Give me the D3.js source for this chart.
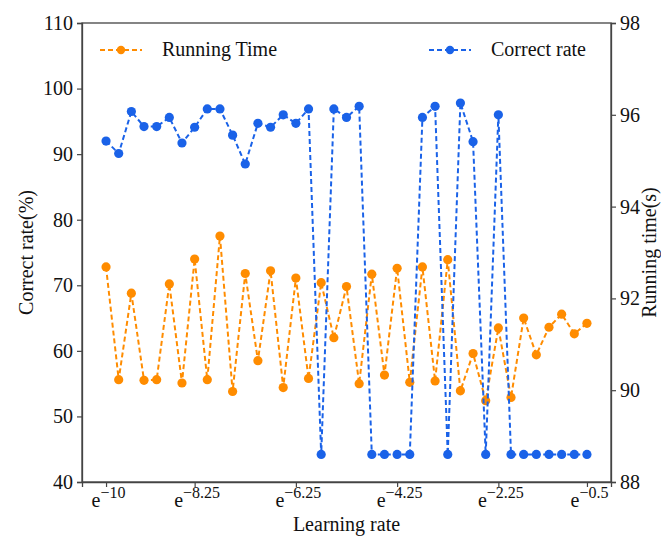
<!DOCTYPE html>
<html><head><meta charset="utf-8">
<script src="https://cdn.jsdelivr.net/npm/d3@7/dist/d3.min.js"></script>
<style>body{margin:0;background:#fff}svg{display:block}</style>
</head><body>
<svg id="c" width="661" height="537"></svg>
<script>
// exponent of learning rate (e^x), step 0.25 from -10 to -0.5
const exponents = d3.range(39).map(i => -10 + i * 0.25);
const runningTime = [72.8,55.6,68.8,55.5,55.6,70.2,55.1,74.0,55.6,77.5,53.8,71.8,58.5,72.2,54.4,71.1,55.8,70.4,62.0,69.8,55.0,71.7,56.3,72.6,55.2,72.8,55.4,73.9,53.9,59.6,52.4,63.5,52.9,65.0,59.4,63.6,65.6,62.6,64.2];
const correctRate = [92.0,90.1,96.5,94.2,94.2,95.6,91.7,94.1,96.9,96.9,92.9,88.5,94.7,94.1,96.0,94.7,96.9,44.2,96.9,95.6,97.3,44.2,44.2,44.2,44.2,95.6,97.3,44.2,97.8,91.9,44.2,96.0,44.2,44.2,44.2,44.2,44.2,44.2,44.2];
const xTicks = [-10,-8.25,-6.25,-4.25,-2.25,-0.5];
const leftTicks = [40,50,60,70,80,90,100,110];
const rightTicks = [88,90,92,94,96,98];

const svg = d3.select("#c");
const L = 82, R = 611, T = 23, B = 482;
const font = "Liberation Serif, Times New Roman, serif";
const axisColor = "#444";
const orange = "#ff8c00", blue = "#1a62e8";

const x = d3.scaleLinear().domain([-10.475, -0.025]).range([L, R]);
const y = d3.scaleLinear().domain([40, 110]).range([B, T]);
const y2 = d3.scaleLinear().domain([88, 98]).range([B, T]);

// frame
svg.append("rect").attr("x", L).attr("y", T).attr("width", R - L).attr("height", B - T)
  .attr("fill", "none").attr("stroke", axisColor).attr("stroke-width", 1.3);

const gl = svg.append("g").attr("transform", `translate(${L},0)`)
  .call(d3.axisLeft(y).tickValues(leftTicks).tickSize(5).tickPadding(4));
const gr = svg.append("g").attr("transform", `translate(${R},0)`)
  .call(d3.axisRight(y2).tickValues(rightTicks).tickSize(5).tickPadding(4));
const gb = svg.append("g").attr("transform", `translate(0,${B})`)
  .call(d3.axisBottom(x).tickValues(xTicks).tickSize(5).tickFormat(() => ""));

[gl, gr, gb].forEach(g => {
  g.select(".domain").attr("stroke", axisColor).attr("stroke-width", 1.3);
  g.selectAll(".tick line").attr("stroke", axisColor).attr("stroke-width", 1.2);
  g.selectAll(".tick text").attr("font-family", font).attr("font-size", 20).attr("fill", "#111");
});

// x tick labels with superscript
gb.selectAll(".tick").each(function(d) {
  const t = d3.select(this).append("text")
    .attr("x", 2).attr("y", 25)
    .attr("font-family", font).attr("fill", "#111").attr("text-anchor", "middle");
  t.append("tspan").attr("font-size", 20).text("e");
  t.append("tspan").attr("font-size", 16).attr("dy", -9).text("\u2212" + String(Math.abs(d)));
});

const lineL = d3.line().x((d, i) => x(exponents[i])).y(d => y(d));
function series(data, color) {
  svg.append("path").datum(data).attr("d", lineL)
    .attr("fill", "none").attr("stroke", color).attr("stroke-width", 2)
    .attr("stroke-dasharray", "5,3");
  svg.append("g").selectAll("circle").data(data).join("circle")
    .attr("cx", (d, i) => x(exponents[i])).attr("cy", d => y(d))
    .attr("r", 4.6).attr("fill", color);
}
series(runningTime, orange);
series(correctRate, blue);

function legend(lx, ly, color, label) {
  svg.append("line").attr("x1", lx).attr("x2", lx + 42).attr("y1", ly).attr("y2", ly)
    .attr("stroke", color).attr("stroke-width", 2).attr("stroke-dasharray", "5,3");
  svg.append("circle").attr("cx", lx + 21).attr("cy", ly).attr("r", 4.2).attr("fill", color);
  svg.append("text").attr("x", lx + 62).attr("y", ly + 6).attr("font-family", font)
    .attr("font-size", 20).attr("fill", "#111").text(label);
}
legend(100, 50, orange, "Running Time");
legend(429, 50, blue, "Correct rate");

svg.append("text").attr("transform", `translate(33,${(T + B) / 2}) rotate(-90)`)
  .attr("text-anchor", "middle").attr("font-family", font).attr("font-size", 20)
  .attr("fill", "#111").text("Correct rate(%)");
svg.append("text").attr("transform", `translate(656,${(T + B) / 2}) rotate(-90)`)
  .attr("text-anchor", "middle").attr("font-family", font).attr("font-size", 20)
  .attr("fill", "#111").text("Running time(s)");
svg.append("text").attr("x", (L + R) / 2).attr("y", 531)
  .attr("text-anchor", "middle").attr("font-family", font).attr("font-size", 20)
  .attr("fill", "#111").text("Learning rate");
</script>
</body></html>
